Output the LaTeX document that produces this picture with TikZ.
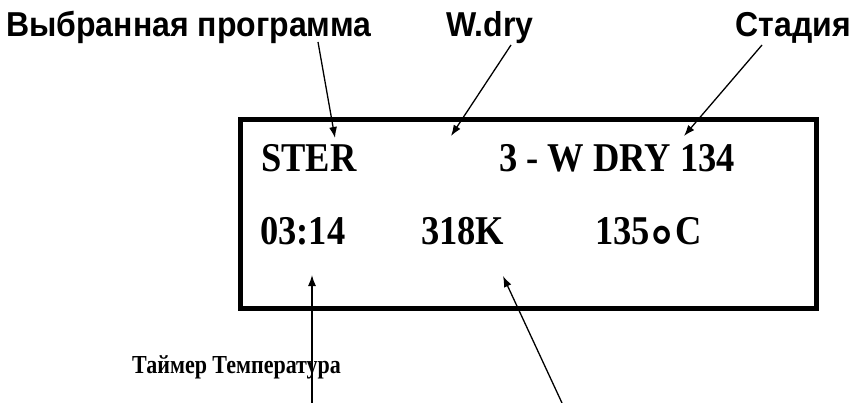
\documentclass[tikz,border=0pt]{standalone}
\usepackage{fontspec}
\setmainfont{Liberation Serif}
\newfontfamily\labelsans{Liberation Sans}
\usetikzlibrary{arrows.meta}
% stretched lettering used on the display and in the captions
\newcommand\lcdtext[1]{\scalebox{1}[1.12]{#1}}
\newcommand\captext[1]{\scalebox{1}[1.08]{#1}}
\newcommand\notetext[1]{\scalebox{1}[1.18]{#1}}
\newcommand\degring{\kern2pt\raisebox{-20.5pt}{\labelsans\bfseries\fontsize{53}{56}\selectfont °}\kern2pt}
\begin{document}
\begin{tikzpicture}[x=1pt,y=-1pt,
  callout/.style={font=\labelsans\bfseries\fontsize{32}{36}\selectfont, inner sep=0pt},
  lcd/.style={font=\bfseries\fontsize{36.5}{42}\selectfont, inner sep=0pt, anchor=base west},
  note/.style={font=\bfseries\fontsize{22}{26}\selectfont, inner sep=0pt, anchor=base west},
  pointer/.style={line width=1.3pt, -{Latex[length=11pt,width=8pt]}},
  frame/.style={draw, line width=5pt, inner sep=0pt}]
\useasboundingbox (0,0) rectangle (856,403);
% callout captions
\node[callout, anchor=base west] (prog) at (6,37) {\captext{Выбранная программа}};
\node[callout, anchor=base west] (wdry) at (446,37) {\captext{W.dry}};
\node[callout, anchor=base east] (stage) at (851,37) {\captext{Стадия}};
% display frame
\node[frame, minimum width=576pt, minimum height=189pt] (lcdbox) at (528,214) {};
% display contents
\node[lcd] (mode) at (261,172) {\lcdtext{STER}};
\node[lcd] (step) at (499,172) {\lcdtext{3 - W DRY 134}};
\node[lcd] (timer) at (260,245) {\lcdtext{03:14}};
\node[lcd] (press) at (421,245) {\lcdtext{318K}};
\node[lcd] (temp) at (595,245) {\lcdtext{135\degring C}};
% note below
\node[note] (notes) at (132,373) {\notetext{Таймер Температура}};
% pointer end points
\coordinate (progfrom) at (318,42);
\coordinate (progto) at (335,138);
\coordinate (wdryfrom) at (511,45);
\coordinate (wdryto) at (451,136);
\coordinate (stagefrom) at (762,45);
\coordinate (stageto) at (684,136);
\coordinate (timerfrom) at (312,403);
\coordinate (timerto) at (312,275);
\coordinate (pressfrom) at (562,403);
\coordinate (pressto) at (503,276);
\draw[pointer] (progfrom) -- (progto);
\draw[pointer] (wdryfrom) -- (wdryto);
\draw[pointer] (stagefrom) -- (stageto);
\draw[pointer] (timerfrom) -- (timerto);
\draw[pointer] (pressfrom) -- (pressto);
\end{tikzpicture}
\end{document}
